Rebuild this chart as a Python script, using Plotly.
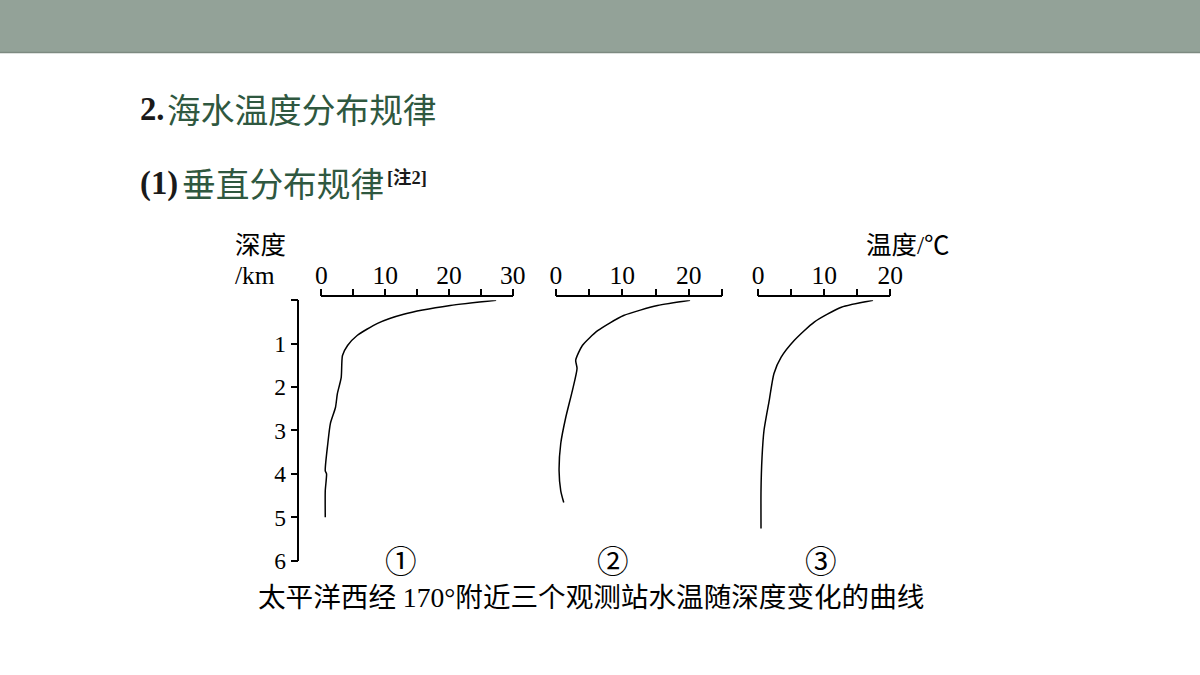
import plotly.graph_objects as go

# ---------------- data ----------------
depth1 = [0, 0.12, 0.32, 0.53, 0.81, 1.04, 1.27, 1.78, 2.15, 2.47, 2.84, 3.3, 3.93, 4.0, 4.39, 5.0]
temp1 = [27.4, 20.2, 12.9, 8.8, 5.6, 4.1, 3.3, 3.1, 2.5, 2.2, 1.4, 1.0, 0.6, 0.8, 0.6, 0.6]

depth2 = [0, 0.12, 0.35, 0.7, 1.04, 1.38, 1.57, 2.08, 2.7, 3.3, 3.93, 4.39, 4.66]
temp2 = [20.2, 15.3, 10.2, 6.3, 4.0, 3.0, 3.2, 2.5, 1.5, 0.75, 0.5, 0.75, 1.2]

depth3 = [0, 0.16, 0.5, 0.92, 1.31, 1.69, 2.3, 3.0, 3.63, 4.39, 5.26]
temp3 = [17.4, 12.6, 8.5, 5.5, 3.5, 2.4, 1.7, 0.9, 0.6, 0.45, 0.45]

depth_ticks = [0, 1, 2, 3, 4, 5, 6]
depth_labels = ["", "1", "2", "3", "4", "5", "6"]
temp_ticks1 = [0, 5, 10, 15, 20, 25, 30]
temp_labels1 = ["0", "", "10", "", "20", "", "30"]
temp_ticks2 = [0, 5, 10, 15, 20, 25]
temp_labels2 = ["0", "", "10", "", "20", ""]
temp_ticks3 = [0, 5, 10, 15, 20]
temp_labels3 = ["0", "", "10", "", "20"]
station_labels = ["①", "②", "③"]

# compensation for the observed capture transform
OX, SX, SY = 6, 0.983, 0.98
W, H = round((1200 - OX) / SX), round(675 / SY)
SERIF = "Liberation Serif, Noto Sans CJK SC"
CJK = "Noto Sans CJK SC"
GREEN = "#2f5840"


def px(x):
    return ((x - OX) / SX) / W


def py(y):
    return 1 - (y / SY) / H


def fs(s):
    return round(s / SY, 1)


fig = go.Figure()
line = dict(color="black", width=1.5, shape="spline", smoothing=0.6)
fig.add_trace(go.Scatter(x=temp1, y=depth1, mode="lines", line=line, xaxis="x", yaxis="y"))
fig.add_trace(go.Scatter(x=temp2, y=depth2, mode="lines", line=line, xaxis="x2", yaxis="y"))
fig.add_trace(go.Scatter(x=temp3, y=depth3, mode="lines", line=line, xaxis="x3", yaxis="y"))

axis_line_y = py(296)


def xaxis(dom, rng, tv, tt):
    return dict(
        domain=[px(dom[0]), px(dom[1])], range=rng, side="top", anchor="free",
        position=axis_line_y, showgrid=False, zeroline=False, showline=True,
        linecolor="black", linewidth=1.5, ticks="outside", ticklen=7,
        tickwidth=1.5, tickcolor="black", tickvals=tv, ticktext=tt,
        ticklabelstandoff=-6,
        tickfont=dict(family=SERIF, size=fs(25), color="black"), fixedrange=True,
    )


fig.update_layout(
    width=W, height=H, margin=dict(l=0, r=0, t=0, b=0),
    paper_bgcolor="white", plot_bgcolor="white", showlegend=False,
    xaxis=xaxis((321, 512), [0, 30], temp_ticks1, temp_labels1),
    xaxis2=xaxis((555, 721), [0, 25], temp_ticks2, temp_labels2),
    xaxis3=xaxis((757, 889), [0, 20], temp_ticks3, temp_labels3),
    yaxis=dict(
        domain=[py(560), py(300)], range=[6, 0], anchor="free", position=px(298),
        showgrid=False, zeroline=False, showline=True, linecolor="black",
        linewidth=1.5, ticks="outside", ticklen=7, tickwidth=1.5, tickcolor="black",
        tickvals=depth_ticks, ticktext=depth_labels,
        tickfont=dict(family=SERIF, size=fs(23), color="black"), fixedrange=True,
    ),
)

# header bar
fig.add_shape(type="rect", xref="paper", yref="paper", x0=px(0), x1=px(1210), y0=py(53), y1=py(-5),
              fillcolor="#93a298", line=dict(width=0), layer="below")
fig.add_shape(type="line", xref="paper", yref="paper", x0=px(0), x1=px(1210), y0=py(52.5), y1=py(52.5),
              line=dict(color="#7d8a81", width=1.5))


def ann(text, x, y, size, family, color="black", xanchor="left", yanchor="middle"):
    fig.add_annotation(text=text, x=px(x), y=py(y), xref="paper", yref="paper",
                       showarrow=False, xanchor=xanchor, yanchor=yanchor,
                       font=dict(size=fs(size), family=family, color=color))


# titles
ann("<b>2.</b>", 138, 109, 32, "Liberation Serif", "#1a1a1a")
ann("海水温度分布规律", 165, 108, 33, CJK, GREEN)
ann("<b>(1)</b>", 138, 183, 32, "Liberation Serif", "#1a1a1a")
ann("垂直分布规律", 180, 182, 33, CJK, GREEN)
ann("<b>[注2]</b>", 384, 178, 18, SERIF, "#1a1a1a")

# axis titles
ann("深度", 233, 245, 25, SERIF)
ann("/km", 233, 275, 25, SERIF)
ann("温度/℃", 951, 245, 25, SERIF, xanchor="right")

# station labels
for lab, x in zip(station_labels, [400, 612, 820]):
    ann(lab, x, 558, 31, CJK, xanchor="center")

# caption
ann("太平洋西经 170°附近三个观测站水温随深度变化的曲线", 590, 597, 27, SERIF, xanchor="center")

fig.write_html("out.html")
